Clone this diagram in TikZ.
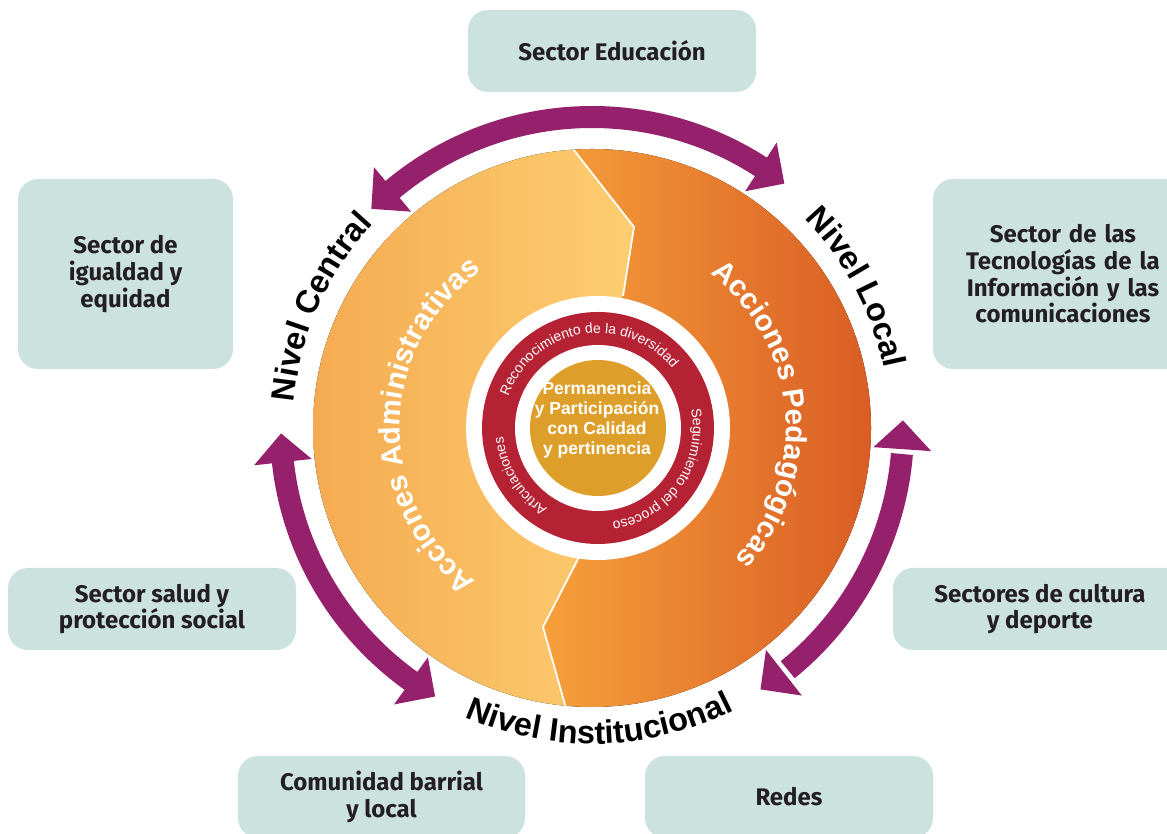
\documentclass[tikz,border=0pt]{standalone}
\usepackage{fontspec}
\setmainfont{Liberation Sans}
\newfontfamily\boxfont{Fira Sans}
\usetikzlibrary{calc,decorations.text}
\definecolor{arrowpurple}{HTML}{95206B}
\definecolor{boxfill}{HTML}{CCE2DF}
\definecolor{boxtext}{HTML}{231F20}
\definecolor{admL}{HTML}{F5AA50}
\definecolor{admR}{HTML}{FDCE71}
\definecolor{pedL}{HTML}{F6A03B}
\definecolor{pedR}{HTML}{D95C24}
\definecolor{ringred}{HTML}{B52234}
\definecolor{coregold}{HTML}{DE9F2A}
\tikzset{
  sectorbox/.style={fill=boxfill, rounded corners=20pt, align=center, text=boxtext,
    font=\boxfont\bfseries\fontsize{24}{26.7}\selectfont, inner sep=0pt},
  band/.style={draw=arrowpurple, line width=22pt},
  head/.style={fill=arrowpurple},
  divline/.style={draw=white, line width=1.8pt},
  leveltext/.style={decorate, decoration={text along path, text align=center,
    text color=black, text={|\bfseries\fontsize{32.5}{32.5}\selectfont|#1}}},
  actiontext/.style={decorate, decoration={text along path, text align=center,
    text color=white, text={|\bfseries\fontsize{29.5}{29.5}\selectfont|#1}}},
  ringtext/.style={decorate, decoration={text along path, text align=center,
    text color=white, text={|\fontsize{14}{14}\selectfont|#1}}},
}
\begin{document}
\begin{tikzpicture}[x=1pt,y=1pt]
\useasboundingbox (0,0) rectangle (1167,834);
\fill[white] (0,0) rectangle (1167,834);
\coordinate (C) at (592,406);
\coordinate (I) at (598,406);

% sector boxes
\node[sectorbox, minimum width=288pt, minimum height=82pt] (edu) at (612,783) {Sector Educación};
\node[sectorbox, minimum width=215pt, minimum height=190pt] (igual) at (125.5,560) {Sector de\\igualdad y\\equidad};
\node[sectorbox, minimum width=260pt, minimum height=190pt, text width=240pt] (tic) at (1063,560) {Sector de las\\Tecnologías de la\\Información y las\\comunicaciones};
\node[sectorbox, minimum width=288pt, minimum height=82pt] (salud) at (152,225) {Sector salud y\\protección social};
\node[sectorbox, minimum width=294pt, minimum height=82pt] (cultura) at (1040,225) {Sectores de cultura\\y deporte};
\node[sectorbox, minimum width=287pt, minimum height=82pt] (barrio) at (381.5,37) {Comunidad barrial\\y local};
\node[sectorbox, minimum width=288pt, minimum height=82pt] (redes) at (789,37) {Redes};

% purple double arrows
\draw[band] ($(C)+(130.8:311pt)$) arc[start angle=130.8, end angle=56.2, radius=311pt];
\fill[head] ($(C)+(129.9:282pt)$) -- ($(C)+(135.2:311pt)$) -- ($(C)+(129.9:340pt)$) -- cycle;
\fill[head] ($(C)+(57.1:282pt)$) -- ($(C)+(51.8:311pt)$) -- ($(C)+(57.1:340pt)$) -- cycle;

\draw[band] ($(C)+(185.4:311pt)$) arc[start angle=185.4, end angle=235.3, radius=311pt];
\fill[head] ($(C)+(186.3:282pt)$) -- ($(C)+(181.0:311pt)$) -- ($(C)+(186.3:340pt)$) -- cycle;
\fill[head] ($(C)+(234.4:282pt)$) -- ($(C)+(239.7:311pt)$) -- ($(C)+(234.4:340pt)$) -- cycle;

\draw[band] ($(C)+(-4.8:311pt)$) arc[start angle=-4.8, end angle=-51.0, radius=311pt];
\fill[head] ($(C)+(-3.9:282pt)$) -- ($(C)+(1.4:311pt)$) -- ($(C)+(-3.9:340pt)$) -- cycle;
\fill[head] ($(C)+(-51.9:282pt)$) -- ($(C)+(-57.2:311pt)$) -- ($(C)+(-51.9:340pt)$) -- cycle;

% main disc, two halves
\begin{scope}
  \clip (C) circle (279pt);
  \fill[left color=admL, right color=admR]
    (545,721) -- (634,607) -- (623,538) -- (579,277) -- (543,207) -- (575,94)
    -- (305,94) -- (305,721) -- cycle;
  \fill[left color=pedL, right color=pedR]
    (545,721) -- (634,607) -- (623,538) -- (579,277) -- (543,207) -- (575,94)
    -- (875,94) -- (875,721) -- cycle;
  \draw[divline] (545,721) -- (634,607) -- (623,538);
  \draw[divline] (579,277) -- (543,207) -- (575,94);
\end{scope}

% inner rings
\fill[white] (I) circle (132pt);
\fill[ringred] (I) circle (116pt);
\fill[white] (I) circle (83pt);
\fill[coregold] (I) circle (68pt);

\node[font=\bfseries\fontsize{17.5}{19.7}\selectfont, text=white, align=center] (core) at (597,414)
  {Permanencia\\y Participación\\con Calidad\\y pertinencia};

% ring labels
\path[ringtext={Reconocimiento de la diversidad}] ($(I)+(175:95pt)$) arc[start angle=175, end angle=24, radius=95pt];
\path[ringtext={Seguimiento del proceso}] ($(I)+(40:95pt)$) arc[start angle=40, end angle=-110, radius=95pt];
\path[ringtext={Articulaciones}] ($(I)+(250:95pt)$) arc[start angle=250, end angle=173, radius=95pt];

% action labels
\path[actiontext={Acciones Administrativas}] ($(C)+(245:192pt)$) arc[start angle=245, end angle=113, radius=192pt];
\path[actiontext={Acciones Pedagógicas}] ($(C)+(71:194pt)$) arc[start angle=71, end angle=-61, radius=194pt];

% level labels
\path[leveltext={Nivel Central}] ($(C)+(186:299pt)$) arc[start angle=186, end angle=126, radius=299pt];
\path[leveltext={Nivel Local}] ($(C)+(58:298pt)$) arc[start angle=58, end angle=-2, radius=298pt];
\path[leveltext={Nivel Institucional}] ($(C)+(236.5:316pt)$) arc[start angle=236.5, end angle=306.5, radius=316pt];
\end{tikzpicture}
\end{document}
